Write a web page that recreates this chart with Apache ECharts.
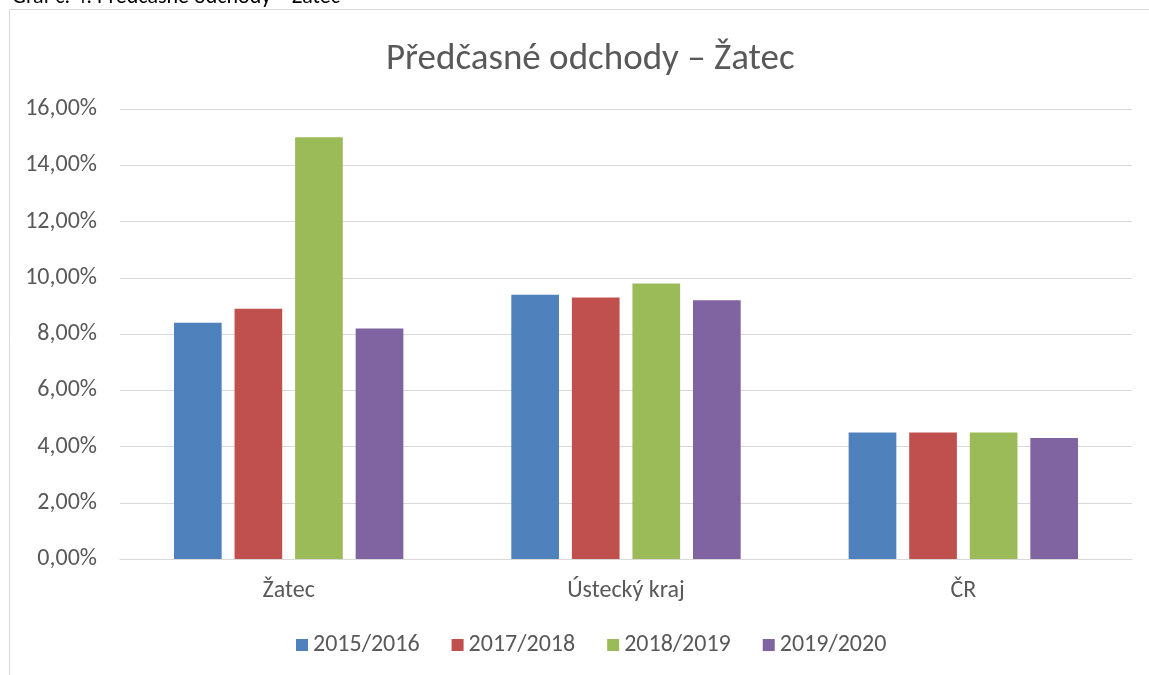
<!DOCTYPE html>
<html>
<head>
<meta charset="utf-8">
<script src="https://cdn.jsdelivr.net/npm/echarts@6/dist/echarts.min.js"></script>
<style>
  html, body { margin: 0; padding: 0; background: #fff; }
  #chart { width: 1149px; height: 675px; }
</style>
</head>
<body>
<div id="chart"></div>
<script>
// categories and series (values in %)
var categories = ['Žatec', 'Ústecký kraj', 'ČR'];
var seriesNames = ['2015/2016', '2017/2018', '2018/2019', '2019/2020'];
var values2015 = [8.4, 9.4, 4.5];
var values2017 = [8.9, 9.3, 4.5];
var values2018 = [15.0, 9.8, 4.5];
var values2019 = [8.2, 9.2, 4.3];
var colors = ['#4f81bd', '#c0504d', '#9bbb59', '#8064a2'];

var font = 'Carlito, Lato, "Liberation Sans", sans-serif';
var allValues = [values2015, values2017, values2018, values2019];

// build series from the arrays
var series = seriesNames.map(function (name, i) {
  return {
    name: name,
    type: 'bar',
    data: allValues[i],
    barGap: '27%',
    barCategoryGap: '32%',
    itemStyle: { color: colors[i] }
  };
});

var chart = echarts.init(document.getElementById('chart'), null, { renderer: 'canvas' });
var option = {
  backgroundColor: '#ffffff',
  animation: false,
  graphic: [
    {
      type: 'rect',
      shape: { x: 9.5, y: 9.5, width: 1200, height: 700 },
      style: { fill: 'none', stroke: '#d9d9d9', lineWidth: 1 },
      silent: true
    },
    {
      // caption above the chart, cut off by the page edge
      type: 'text',
      left: 12,
      top: -14,
      style: { text: 'Graf č. 4: Předčasné odchody – Žatec', fill: '#000', font: '22px ' + font }
    }
  ],
  title: {
    text: 'Předčasné odchody – Žatec',
    left: 381,
    top: 36,
    textStyle: { color: '#595959', fontSize: 37, fontWeight: 'normal', fontFamily: font }
  },
  legend: {
    data: seriesNames,
    top: 628,
    left: 291,
    itemWidth: 12,
    itemHeight: 12,
    itemGap: 32,
    icon: 'rect',
    textStyle: { color: '#595959', fontSize: 24, fontFamily: font }
  },
  grid: { left: 120, right: 17, top: 109, bottom: 116 },
  xAxis: {
    type: 'category',
    data: categories,
    axisLine: { lineStyle: { color: '#d9d9d9', width: 1 } },
    axisTick: { show: false },
    axisLabel: { color: '#595959', fontSize: 24, fontFamily: font, margin: 20 }
  },
  yAxis: {
    type: 'value',
    min: 0,
    max: 16,
    interval: 2,
    axisLine: { show: false },
    axisTick: { show: false },
    splitLine: { lineStyle: { color: '#d9d9d9', width: 1 } },
    axisLabel: {
      color: '#595959', fontSize: 24, fontFamily: font, margin: 23,
      formatter: function (v) { return v.toFixed(2).replace('.', ',') + '%'; }
    }
  },
  series: series
};
chart.setOption(option);
</script>
</body>
</html>
